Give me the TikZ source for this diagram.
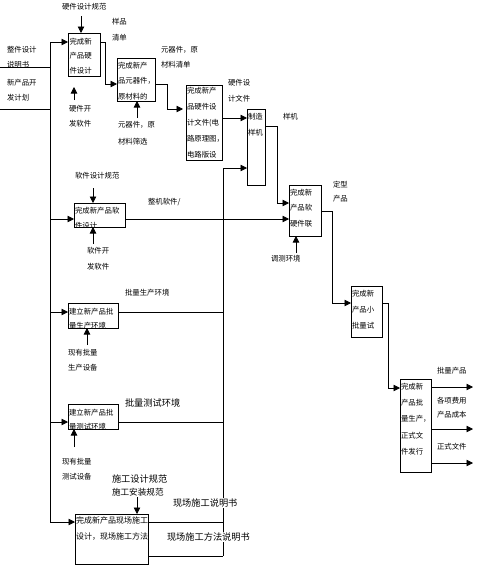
\documentclass[tikz,border=0pt]{standalone}
\usepackage{fontspec}
\setmainfont{Noto Sans CJK SC}
\usetikzlibrary{arrows.meta,calc}
\begin{document}
\begin{tikzpicture}[x=1pt,y=-1pt,line width=0.8pt,
  box/.style={draw,rectangle,inner sep=0pt,outer sep=0pt,anchor=north west},
  txt/.style={inner sep=0pt,outer sep=0pt,anchor=north west,align=left,font=\fontsize{7.4}{#1}\selectfont},
  txt/.default=15.5,
  lbl/.style={inner sep=0pt,outer sep=0pt,anchor=west,font=\fontsize{7.4}{9}\selectfont},
  big/.style={inner sep=1pt,outer sep=0pt,anchor=west,fill=white,font=\fontsize{9.2}{11}\selectfont},
  arr/.style={-{Triangle[length=6.5pt,width=6.5pt]}}
]
\useasboundingbox (0,0) rectangle (480,565);

% ---------- boxes ----------
\node[box,minimum width=32pt,minimum height=43pt] (b1) at (68,33) {};
\node[box,minimum width=38pt,minimum height=43pt] (b2) at (117,58) {};
\node[box,minimum width=36pt,minimum height=75pt] (b3) at (186,85) {};
\node[box,minimum width=18pt,minimum height=76pt] (b4) at (247,109) {};
\node[box,minimum width=32pt,minimum height=51pt] (b5) at (289,185) {};
\node[box,minimum width=31pt,minimum height=51pt] (b6) at (351,286) {};
\node[box,minimum width=31pt,minimum height=93pt] (b7) at (400,379) {};
\node[box,minimum width=51pt,minimum height=24pt] (sw) at (74,203) {};
\node[box,minimum width=50pt,minimum height=25pt] (bp) at (68,303) {};
\node[box,minimum width=50pt,minimum height=25pt] (bt) at (68,404) {};
\node[box,minimum width=73pt,minimum height=50pt] (bf) at (75,514) {};

% ---------- box texts (clipped to their boxes) ----------
\begin{scope}\clip (b1.north west) rectangle (b1.south east);
\node[txt=14.5] (t1) at (69.5,38.2) {完成新\\产品硬\\件设计};\end{scope}
\begin{scope}\clip (b2.north west) rectangle (b2.south east);
\node[txt=15.5] (t2) at (118,62.2) {完成新产\\品元器件，\\原材料的};\end{scope}
\begin{scope}\clip (b3.north west) rectangle (b3.south east);
\node[txt=16] (t3) at (187,87.2) {完成新产\\品硬件设\\计文件(电\\路原理图，\\电路版设};\end{scope}
\begin{scope}\clip (b4.north west) rectangle (b4.south east);
\node[txt=16.5] (t4) at (248,113.2) {制造\\样机};\end{scope}
\begin{scope}\clip (b5.north west) rectangle (b5.south east);
\node[txt=15.5] (t5) at (290,189.2) {完成新\\产品软\\硬件联};\end{scope}
\begin{scope}\clip (b6.north west) rectangle (b6.south east);
\node[txt=16] (t6) at (352,290.2) {完成新\\产品小\\批量试};\end{scope}
\begin{scope}\clip (b7.north west) rectangle (b7.south east);
\node[txt=16.2] (t7) at (401,383.2) {完成新\\产品批\\量生产，\\正式文\\件发行};\end{scope}
\begin{scope}\clip (sw.north west) rectangle (sw.south east);
\node[txt=15] (tsw) at (75,207.2) {完成新产品软\\件设计};\end{scope}
\begin{scope}\clip (bp.north west) rectangle (bp.south east);
\node[txt=14.5] (tbp) at (69,308.2) {建立新产品批\\量生产环境};\end{scope}
\begin{scope}\clip (bt.north west) rectangle (bt.south east);
\node[txt=14.5] (tbt) at (69,409.2) {建立新产品批\\量测试环境};\end{scope}
\begin{scope}\clip (bf.north west) rectangle (bf.south east);
\node[txt=16,font=\fontsize{8}{16}\selectfont] (tbf) at (76,517) {完成新产品现场施工\\设计，现场施工方法};\end{scope}

% ---------- trunk and collector ----------
\coordinate (tk1) at (50,42);
\coordinate (tk2) at (50,219);
\coordinate (tk3) at (50,312);
\coordinate (tk4) at (50,422);
\coordinate (tk9) at (50,522);
\coordinate (in1) at (0,67);
\coordinate (in2) at (0,109);
\coordinate (cl1) at (223,168);
\coordinate (cl9) at (223,556);
\coordinate (o1) at (473,387);
\coordinate (o2) at (473,429);
\coordinate (o3) at (473,463);

\draw (tk1) -- (tk9);
\draw (in1) -- (in1 -| tk1);
\draw (in2) -- (in2 -| tk1);
\draw (cl1) -- (cl9);

% inputs from trunk
\draw[arr] (tk1) -- (b1.west |- tk1);
\draw[arr] (tk2) -- (sw.west |- tk2);
\draw[arr] (tk3) -- (bp.west |- tk3);
\draw[arr] (tk4) -- (bt.west |- tk4);
\draw[arr] (tk9) -- (bf.west |- tk9);

% controls / mechanisms
\draw[arr] ($(b1.north west)+(13,-17)$) -- ($(b1.north west)+(13,0)$);
\draw[arr] ($(b1.north west)+(6,67)$) -- ($(b1.north west)+(6,54)$);
\draw[arr] ($(b2.north west)+(20,60)$) -- ($(b2.north west)+(20,43)$);
\draw[arr] ($(sw.north west)+(19,-15)$) -- ($(sw.north west)+(19,0)$);
\draw[arr] ($(sw.north west)+(19,41)$) -- ($(sw.north west)+(19,24)$);
\draw[arr] ($(b5.north west)+(7,68)$) -- ($(b5.north west)+(7,51)$);
\draw[arr] ($(bp.north west)+(19,42)$) -- ($(bp.north west)+(19,25)$);
\draw[arr] ($(bt.north west)+(6,43)$) -- ($(bt.north west)+(6,25)$);
\draw[arr] ($(bf.north west)+(62,-17)$) -- ($(bf.north west)+(62,0)$);

% box to box
\draw[arr] ($(b1.north east)+(0,9)$) -- ++(5,0) |- ($(b2.north west)+(0,26)$);
\draw[arr] ($(b2.north east)+(0,26)$) -- ++(12,0) |- ($(b3.north west)+(-3,24)$);
\draw[arr] ($(b3.north east)+(0,33)$) -- ($(b4.north west)+(0,9)$);
\draw[arr] (cl1) -- (b4.west |- cl1);
\draw[arr] ($(b4.north east)+(0,17)$) -- ++(12,0) |- ($(b5.north west)+(0,18)$);
\draw[arr] ($(sw.north east)+(0,16)$) -- ($(b5.north west)+(0,34)$);
\draw[arr] ($(b5.north east)+(0,26)$) -- ++(11,0) |- ($(b6.north west)+(0,17)$);
\draw[arr] ($(b6.north east)+(0,17)$) -- ++(6,0) |- ($(b7.north west)+(0,9)$);
\draw[arr] (b7.east |- o1) -- (o1);
\draw[arr] (b7.east |- o2) -- (o2);
\draw[arr] (b7.east |- o3) -- (o3);

% outputs to collector
\draw (bp.east |- tk3) -- (cl1 |- tk3);
\draw (bt.east |- tk4) -- (cl1 |- tk4);
\draw (bf.east |- tk9) -- (cl1 |- tk9);
\draw (bf.east |- cl9) -- (cl9);

% ---------- labels ----------
\node[txt=14.5] (lin1) at (7,46.5) {整件设计\\说明书};
\node[txt=15] (lin2) at (7,79.5) {新产品开\\发计划};
\node[lbl] (lhs) at (62,7) {硬件设计规范};
\node[txt=16] (lyp) at (112,18.5) {样品\\清单};
\node[txt=14.5] (lhd) at (69,105.5) {硬件开\\发软件};
\node[txt=16.5] (lys) at (118,121.5) {元器件，原\\材料筛选};
\node[txt=15] (lyq) at (161,46.5) {元器件，原\\材料清单};
\node[txt=16] (lhf) at (228,79.5) {硬件设\\计文件};
\node[lbl] (lyj) at (283,117) {样机};
\node[txt=13.5] (ldx) at (333,181.5) {定型\\产品};
\node[lbl] (ltc) at (271,259) {调测环境};
\node[lbl] (lss) at (75,176) {软件设计规范};
\node[txt=16] (lsd) at (87,247.5) {软件开\\发软件};
\node[lbl] (lzj) at (148,202) {整机软件/};
\node[lbl] (lpe) at (125,293) {批量生产环境};
\node[txt=14.5] (lpd) at (68,349.5) {现有批量\\生产设备};
\node[big] (lte) at (124,403) {批量测试环境};
\node[txt=15] (ltd) at (62,458.5) {现有批量\\测试设备};
\node[big] (lsg) at (111,479) {施工设计规范};
\node[big,font=\fontsize{8.6}{10}\selectfont] (lsa) at (111,492) {施工安装规范};
\node[big] (lsm) at (172,503) {现场施工说明书};
\node[big] (lsf) at (166,537) {现场施工方法说明书};
\node[lbl] (lpp) at (437,371) {批量产品};
\node[txt=14] (lfy) at (437,397) {各项费用\\产品成本};
\node[lbl] (lzw) at (437,447) {正式文件};
\end{tikzpicture}
\end{document}
